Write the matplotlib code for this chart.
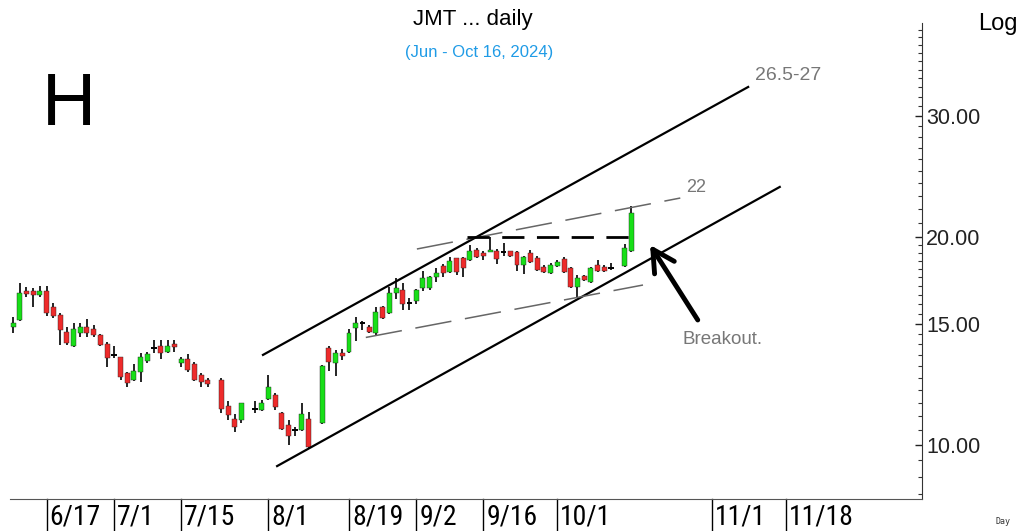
import numpy as np
import matplotlib
matplotlib.use('Agg')
import matplotlib.pyplot as plt
import matplotlib.transforms as mtransforms
from matplotlib.ticker import FixedLocator, NullFormatter

plt.rcParams['font.family'] = ['Liberation Sans', 'DejaVu Sans']

nan = float('nan')

# daily bars, one slot per weekday starting 6/10 (nan = no bar)
opens = [14.81, 15.18, 16.74, 16.74, 16.50, 16.74, 15.85, 15.44, 14.60, 13.92,
         14.55, 14.82, 14.73, 14.44, 14.01, 13.50, 13.41, 12.72, 12.42, 12.77,
         13.25, 13.82, 13.92, 13.66, 14.01, 13.16, 13.32, 13.10, 12.63, 12.42,
         nan, 12.42, 11.40, 10.90, 10.87, nan, 11.27, 11.24, 11.66, 11.82,
         11.12, 10.69, 10.51, 10.51, 10.89, nan, 10.75, 13.84, 13.14, 13.61,
         13.66, 14.76, 15.01, 14.81, 14.55, 15.83, 15.52, 16.60, 16.78, 16.05,
         16.17, 16.90, 16.90, 17.54, 18.19, 17.84, 18.65, 18.65, 18.55, 19.18,
         18.99, 19.07, 19.12, 19.02, 19.12, 19.05, 18.24, 18.97, 18.65, 18.10,
         17.74, 18.18, 18.59, 18.04, 16.93, 17.58, 17.25, 18.24, 18.14, 18.04,
         nan, 18.18, 19.13]
highs = [15.35, 17.16, 16.97, 16.87, 17.01, 17.01, 16.07, 15.55, 14.82, 15.03,
         15.03, 15.23, 14.93, 14.47, 14.12, 13.92, 13.43, 12.77, 13.10, 13.61,
         13.66, 14.20, 14.20, 14.20, 14.20, 13.41, 13.55, 13.21, 12.71, 12.49,
         nan, 12.49, 11.60, 11.09, 11.52, nan, 11.59, 11.62, 12.63, 11.90,
         11.16, 10.87, 10.63, 11.49, 11.18, nan, 13.04, 13.92, 13.73, 13.76,
         14.71, 15.35, 15.14, 14.93, 15.83, 15.91, 16.97, 17.45, 17.19, 16.33,
         16.86, 17.88, 17.58, 18.07, 18.28, 18.75, 18.69, 18.75, 19.50, 19.28,
         19.14, 20.02, 19.27, 19.61, 19.14, 19.11, 18.79, 19.18, 18.79, 18.24,
         18.34, 18.55, 18.71, 18.10, 17.64, 17.64, 18.10, 18.55, 18.24, 18.34,
         nan, 19.57, 22.22]
lows = [14.55, 15.14, 16.37, 15.87, 16.37, 15.39, 15.28, 13.97, 13.97, 13.87,
        14.36, 14.34, 14.34, 13.92, 12.98, 13.37, 12.42, 12.13, 12.39, 12.35,
        13.15, 13.61, 13.32, 13.58, 13.66, 12.98, 12.77, 12.39, 12.12, 12.12,
        nan, 11.12, 10.87, 10.43, 10.77, nan, 11.12, 11.20, 11.62, 11.24,
        10.51, 10.00, 10.31, 10.48, 9.90, nan, 10.73, 12.82, 12.59, 13.28,
        13.58, 14.17, 14.68, 14.52, 14.39, 15.21, 15.49, 16.26, 15.69, 15.69,
        15.99, 16.71, 16.78, 17.25, 17.54, 17.74, 17.64, 17.54, 18.49, 18.65,
        18.55, 19.02, 18.27, 18.82, 18.72, 17.90, 17.70, 18.34, 17.90, 17.78,
        17.70, 18.10, 17.74, 16.87, 16.37, 17.30, 17.19, 17.84, 17.84, 17.94,
        nan, 18.14, 19.07]
closes = [15.04, 16.63, 16.56, 16.50, 16.74, 15.55, 15.39, 14.68, 14.04, 14.73,
          14.82, 14.54, 14.44, 13.97, 13.37, 13.50, 12.56, 12.30, 12.82, 13.41,
          13.55, 13.82, 13.60, 13.92, 13.87, 13.32, 12.84, 12.42, 12.35, 12.26,
          nan, 11.26, 11.05, 10.63, 11.50, nan, 11.27, 11.50, 12.13, 11.35,
          10.54, 10.31, 10.51, 11.09, 9.92, nan, 13.02, 13.21, 13.61, 13.46,
          14.52, 15.01, 15.01, 14.57, 15.61, 15.26, 16.60, 16.87, 16.01, 16.05,
          16.78, 17.48, 17.54, 17.74, 17.74, 18.49, 17.84, 18.04, 19.11, 18.75,
          18.77, 19.18, 18.58, 19.02, 18.82, 18.24, 18.75, 18.44, 17.94, 17.84,
          18.24, 18.44, 17.84, 16.93, 17.45, 17.34, 18.04, 17.90, 17.90, 18.04,
          nan, 19.28, 21.68]

date_labels = ['6/17', '7/1', '7/15', '8/1', '8/19', '9/2', '9/16', '10/1', '11/1', '11/18']
date_slots = [5, 15, 25, 38, 50, 60, 70, 81, 104, 115]

# hand-drawn lines (slot, price)
upper_channel = [(37.2, 13.51), (109.4, 33.05)]
lower_channel = [(39.3, 9.32), (114.1, 23.67)]
upper_dashed = [(60.1, 19.24), (99.3, 22.81)]
lower_dashed = [(52.5, 14.32), (93.75, 17.06)]
resistance = [(67.6, 20.0), (92.1, 20.0)]
arrow_tail = (101.9, 15.18)
arrow_head = (94.8, 19.5)

y_major = [10, 15, 20, 30]
y_minor = [v for v in list(np.arange(8.5, 20, 0.5)) + list(range(21, 41)) if v not in y_major]

W, H = 1016, 531
fig = plt.figure(figsize=(W / 100, H / 100), dpi=100)
ax = fig.add_axes([10 / W, 1 - 499 / H, 912 / W, 476 / H])
ax.set_yscale('log')

green = '#18df18'
red = '#ee2b2b'
for i, (o, h, l, c) in enumerate(zip(opens, highs, lows, closes)):
    if np.isnan(o):
        continue
    ax.vlines(i, l, h, color='black', lw=1.2, zorder=2)
    if o == c:
        ax.hlines(c, i - 0.42, i + 0.42, color='black', lw=1.4, zorder=3)
    else:
        ax.bar(i, abs(c - o), bottom=min(o, c), width=0.74,
               color=green if c > o else red, edgecolor='#222222',
               linewidth=0.3, zorder=3)

# channel and trend lines
for seg in (upper_channel, lower_channel):
    ax.plot(*zip(*seg), color='black', lw=1.6, zorder=4)
for seg in (upper_dashed, lower_dashed):
    ax.plot(*zip(*seg), color='#666666', lw=1.1, ls=(0, (24, 9)), zorder=4)
ax.plot(*zip(*resistance), color='black', lw=2.0, ls=(0, (8, 4.5)), zorder=4)
ax.annotate('', xy=arrow_head, xytext=arrow_tail,
            arrowprops=dict(arrowstyle='->,head_length=1.3,head_width=0.7',
                            lw=3.5, color='black', mutation_scale=12,
                            shrinkA=0, shrinkB=0))

ax.set_xlim(-0.45, 135.27)
ax.set_ylim(8.35, 40.92)

for s in ('top', 'left'):
    ax.spines[s].set_visible(False)
ax.spines['bottom'].set_color('#555555')
ax.spines['right'].set_color('#333333')

ax.set_xticks([])
ax.yaxis.tick_right()
ax.yaxis.set_major_locator(FixedLocator(y_major))
ax.set_yticklabels([f'{v:.2f}' for v in y_major])
ax.yaxis.set_minor_locator(FixedLocator(y_minor))
ax.yaxis.set_minor_formatter(NullFormatter())
ax.tick_params(axis='y', which='major', direction='in', length=5, width=1,
               pad=3, labelsize=15.5, colors='#222222')
ax.tick_params(axis='y', which='minor', direction='in', length=3, width=0.8,
               colors='#333333')

# date separators under the axis
trans = mtransforms.blended_transform_factory(ax.transData, ax.transAxes)
label_fonts = ['Liberation Sans Narrow', 'Roboto Condensed', 'DejaVu Sans Condensed',
               'Liberation Sans']
for slot, lab in zip(date_slots, date_labels):
    ax.plot([slot, slot], [0, -33 / 476], transform=trans, color='black',
            lw=1, clip_on=False)
    ax.text(slot + 0.45, -26 / 476, lab, transform=trans, fontsize=20,
            va='baseline', ha='left', family=label_fonts)

# texts
fig.text(473 / W, 1 - 20 / H, 'JMT ... daily', ha='center', va='center', fontsize=16)
fig.text(479 / W, 1 - 53 / H, '(Jun - Oct 16, 2024)', ha='center', va='center',
         fontsize=12, color='#1f9be6')
fig.text(42 / W, 1 - 125 / H, 'H', fontsize=54, va='baseline', ha='left')
fig.text(978 / W, 1 - 24 / H, 'Log', fontsize=17, va='center', ha='left')
fig.text(995 / W, 1 - 521 / H, 'Day', fontsize=6, va='center', ha='left',
         family='DejaVu Sans Mono', color='#333333')
fig.text(755 / W, 1 - 75 / H, '26.5-27', fontsize=14, va='center', ha='left', color='#777777')
fig.text(686 / W, 1 - 188 / H, '22', fontsize=13, va='center', ha='left', color='#777777')
fig.text(682 / W, 1 - 340 / H, 'Breakout.', fontsize=13.5, va='center', ha='left', color='#777777')

fig.savefig('out.png', dpi=100)
